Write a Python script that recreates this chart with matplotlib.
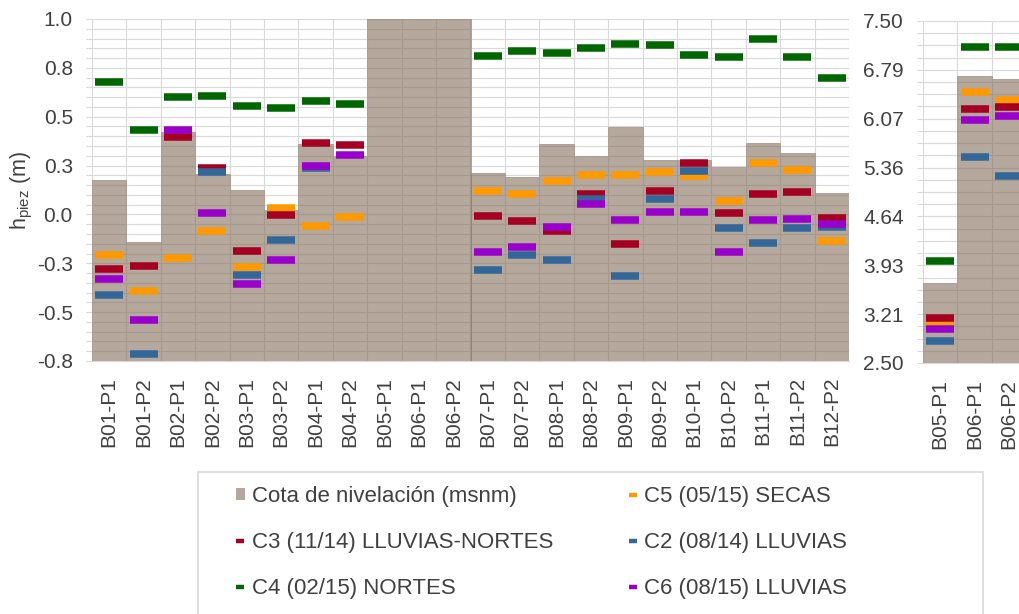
import numpy as np
import matplotlib.pyplot as plt
from matplotlib.lines import Line2D
from matplotlib.patches import Patch, Rectangle
from matplotlib.ticker import FixedLocator

plt.rcParams['font.family'] = ['Liberation Sans', 'DejaVu Sans']
plt.rcParams['mathtext.fontset'] = 'custom'
plt.rcParams['mathtext.rm'] = 'Liberation Sans'

# Wells (left chart shows all, right chart zooms on B05/B06)
wells = ['B01-P1', 'B01-P2', 'B02-P1', 'B02-P2', 'B03-P1', 'B03-P2', 'B04-P1', 'B04-P2',
         'B05-P1', 'B06-P1', 'B06-P2', 'B07-P1', 'B07-P2', 'B08-P1', 'B08-P2', 'B09-P1',
         'B09-P2', 'B10-P1', 'B10-P2', 'B11-P1', 'B11-P2', 'B12-P2']
zoom_wells = ['B05-P1', 'B06-P1', 'B06-P2']

# Cota de nivelación (msnm)
cota = [0.177, -0.142, 0.421, 0.208, 0.124, 0.023, 0.360, 0.300,
        3.673, 6.692, 6.648, 0.211, 0.194, 0.361, 0.297, 0.449,
        0.280, 0.280, 0.242, 0.368, 0.314, 0.112]
# C5 (05/15) SECAS
c5 = [-0.209, -0.390, -0.221, -0.084, -0.267, 0.034, -0.057, -0.011,
      3.094, 6.463, 6.346, 0.119, 0.105, 0.172, 0.201, 0.201,
      0.215, 0.195, 0.071, 0.262, 0.228, -0.137]
# C3 (11/14) LLUVIAS-NORTES
c3 = [-0.281, -0.262, 0.397, 0.240, -0.187, -0.004, 0.363, 0.355,
      3.157, 6.210, 6.249, -0.009, -0.036, -0.083, 0.105, -0.152,
      0.119, 0.262, 0.005, 0.105, 0.114, -0.019]
# C2 (08/14) LLUVIAS
c2 = [-0.410, -0.714, np.nan, 0.215, -0.310, -0.132, 0.237, np.nan,
      2.826, 5.514, 5.241, -0.282, -0.207, -0.234, 0.080, -0.316,
      0.078, 0.221, -0.071, -0.146, -0.071, -0.062]
# C4 (02/15) NORTES
c4 = [0.676, 0.431, 0.600, 0.607, 0.553, 0.546, 0.580, 0.566,
      3.985, 7.120, 7.120, 0.810, 0.838, 0.824, 0.851, 0.872,
      0.865, 0.817, 0.805, 0.899, 0.805, 0.696]
# C6 (08/15) LLUVIAS
c6 = [-0.328, -0.538, 0.431, 0.005, -0.357, -0.233, 0.249, 0.302,
      2.997, 6.059, 6.117, -0.193, -0.166, -0.065, 0.054, -0.031,
      0.011, 0.011, -0.193, -0.030, -0.023, -0.050]

left_ticks = [-0.75, -0.5, -0.25, 0.0, 0.25, 0.5, 0.75, 1.0]
left_labels = ['-0.8', '-0.5', '-0.3', '0.0', '0.3', '0.5', '0.8', '1.0']

series = [
    ('C5 (05/15) SECAS', c5, '#FF9900'),
    ('C3 (11/14) LLUVIAS-NORTES', c3, '#A50021'),
    ('C2 (08/14) LLUVIAS', c2, '#336699'),
    ('C4 (02/15) NORTES', c4, '#006600'),
    ('C6 (08/15) LLUVIAS', c6, '#9900CC'),
]

GRID = '#D9D9D9'
TXT = '#404040'
BAR = (132 / 255, 110 / 255, 90 / 255, 0.6)


def draw_panel(ax, names, ymin, ymax, major, minor, labels):
    idx = [wells.index(n) for n in names]
    x = np.arange(len(idx))
    vals = np.array(cota)[idx]
    ax.bar(x, vals - ymin, bottom=ymin, width=1.0, color=BAR,
           edgecolor='#A89A8C', linewidth=0.6, zorder=2)
    for name, vals_s, col in series:
        ax.plot(x, np.array(vals_s)[idx], ls='none', marker='_', ms=20,
                mew=5.4, color=col, zorder=3)
    ax.set_xlim(-0.5, len(idx) - 0.5)
    ax.set_ylim(ymin, ymax)
    ax.yaxis.set_major_locator(FixedLocator(major))
    ax.yaxis.set_minor_locator(FixedLocator(minor))
    ax.set_yticklabels(labels)
    ax.set_xticks(x)
    ax.set_xticklabels(names, rotation=90, va='top', ha='center')
    ax.xaxis.set_minor_locator(FixedLocator(np.arange(len(idx) + 1) - 0.5))
    ax.set_axisbelow(True)
    ax.grid(which='both', axis='y', color=GRID, lw=0.8)
    ax.grid(which='minor', axis='x', color=GRID, lw=0.8)
    ax.tick_params(axis='y', which='both', direction='out', length=4.3,
                   color=GRID, width=0.8, labelsize=15, labelcolor=TXT, pad=9.5)
    ax.tick_params(axis='x', which='both', length=0, labelsize=15,
                   labelcolor=TXT, pad=11.5)
    for s in ['top', 'left', 'right']:
        ax.spines[s].set_visible(False)
    ax.spines['bottom'].set_color(GRID)


fig = plt.figure(figsize=(10.19, 6.14), dpi=100)
ax = fig.add_axes([92 / 1019, 1 - 361 / 614, 757 / 1019, 342 / 614])
ax2 = fig.add_axes([923 / 1019, 1 - 363 / 614, 103.2 / 1019, 342 / 614])

draw_panel(ax, wells, -0.75, 1.0, left_ticks, np.arange(-0.75, 1.001, 0.05), left_labels)
right_major = np.linspace(2.5, 7.5, 8)
draw_panel(ax2, zoom_wells, 2.5, 7.5, right_major, np.linspace(2.5, 7.5, 29),
           ['%.2f' % v for v in right_major])

fig.text(22 / 1019, 1 - 190 / 614, r'h$_{\rm piez}$ (m)', rotation=90,
         ha='center', va='center', fontsize=15.5, color=TXT)

# legend
h_cota = Patch(facecolor='#B5A89C', edgecolor='none')
hl = {name: Line2D([], [], ls='none', marker='_', ms=6, mew=3.2, color=col)
      for name, _, col in series}
handles = [h_cota, hl['C3 (11/14) LLUVIAS-NORTES'], hl['C4 (02/15) NORTES'],
           hl['C5 (05/15) SECAS'], hl['C2 (08/14) LLUVIAS'], hl['C6 (08/15) LLUVIAS']]
labels = ['Cota de nivelación (msnm)', 'C3 (11/14) LLUVIAS-NORTES', 'C4 (02/15) NORTES',
          'C5 (05/15) SECAS', 'C2 (08/14) LLUVIAS', 'C6 (08/15) LLUVIAS']
fig.legend(handles, labels, ncol=2, loc='upper left',
           bbox_to_anchor=(236 / 1019, 1 - 486 / 614), frameon=False,
           fontsize=16, handlelength=0.4, handleheight=0.4, handletextpad=0.3,
           columnspacing=3.4, labelspacing=1.12, borderpad=0, borderaxespad=0,
           labelcolor=TXT)
fig.add_artist(Rectangle((198 / 1019, -0.02), (983 - 198) / 1019, (614 - 472) / 614 + 0.02,
                         transform=fig.transFigure, fill=False, edgecolor=GRID, lw=1.2))

fig.savefig('out.png', dpi=100)
